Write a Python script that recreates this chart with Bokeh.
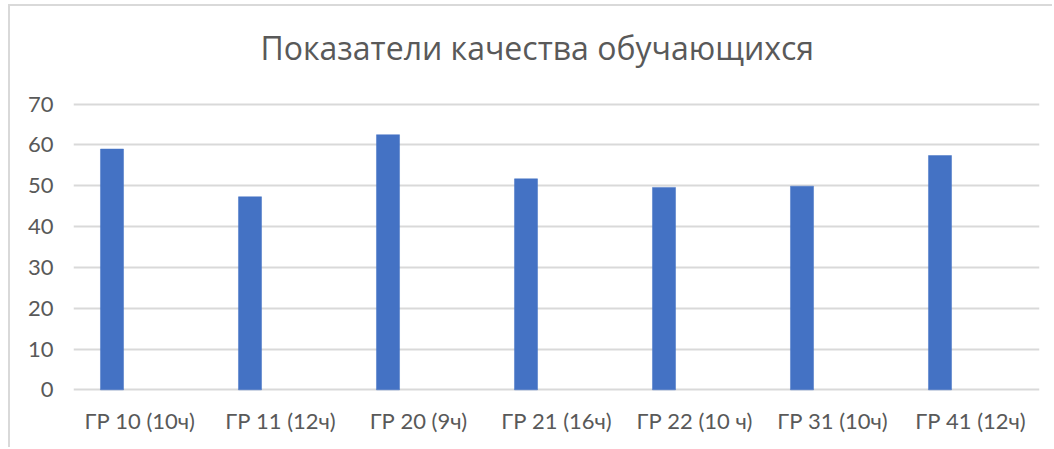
from bokeh.plotting import figure
from bokeh.models import FactorRange, Range1d, FixedTicker, Title
from bokeh.transform import dodge
from bokeh.embed import file_html
from bokeh.resources import INLINE

title_text = "Показатели качества обучающихся"
groups = ["ГР 10  (10ч)", "ГР 11 (12ч)", "ГР 20 (9ч)", "ГР 21 (16ч)",
          "ГР 22 (10 ч)", "ГР 31 (10ч)", "ГР 41 (12ч)"]
values = [59.0, 47.3, 62.5, 51.7, 49.6, 49.9, 57.4]
y_ticks = [0, 10, 20, 30, 40, 50, 60, 70]

TEXT = "#595959"
GRID = "#D9D9D9"
FONT = "Lato"

p = figure(
    x_range=FactorRange(*groups, range_padding=0),
    y_range=Range1d(-0.4, 70.4),
    width=1044, height=443,
    output_backend="svg", toolbar_location=None,
    title_location=None,
    min_border_left=63, min_border_right=15,
    min_border_top=96, min_border_bottom=58,
    outline_line_color=None,
    background_fill_color="white", border_fill_color="white",
)
p.styles = {
    "margin-top": "4px",
    "margin-left": "8px",
    "border-left": "2px solid #D9D9D9",
    "border-top": "2px solid #D9D9D9",
}

p.vbar(x=dodge("x", -0.221, range=p.x_range), top="top", width=0.167,
       source=dict(x=groups, top=values),
       fill_color="#4472C4", line_color="#4472C4", line_width=0.5)

p.xgrid.grid_line_color = None
p.ygrid.ticker = FixedTicker(ticks=y_ticks)
p.ygrid.grid_line_color = GRID
p.ygrid.grid_line_width = 2

p.yaxis.ticker = FixedTicker(ticks=y_ticks)
for ax in (p.xaxis[0], p.yaxis[0]):
    ax.axis_line_color = None
    ax.major_tick_line_color = None
    ax.minor_tick_line_color = None
    ax.major_label_text_font = FONT
    ax.major_label_text_font_size = "22px"
    ax.major_label_text_color = TEXT
p.yaxis.major_label_standoff = 14
p.xaxis.major_label_standoff = 9

spacer = Title(text=" ", text_font_size="1px", standoff=18)
main_title = Title(text=title_text, align="left", offset=187,
                   text_font="Open Sans", text_font_size="32px",
                   text_font_style="normal", text_color=TEXT,
                   vertical_align="top", standoff=21)
p.add_layout(spacer, "above")
p.add_layout(main_title, "above")

open("out.html", "w").write(file_html(p, INLINE))
